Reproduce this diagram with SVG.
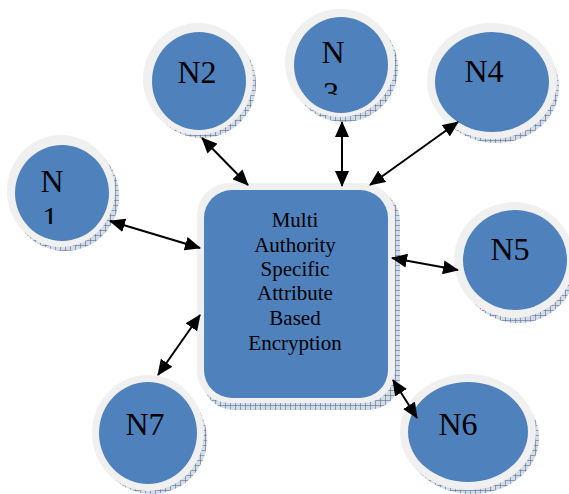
<svg xmlns="http://www.w3.org/2000/svg" width="569" height="494" viewBox="0 0 569 494">
<defs>
<pattern id="hatch" width="5" height="5" patternUnits="userSpaceOnUse">
<rect width="5" height="5" fill="#d3dbe6"/>
<path d="M0 0.5H5M0.5 0V5" stroke="#5a7191" stroke-width="0.6"/>
</pattern>
<marker id="ah" viewBox="0 0 16 14" refX="15" refY="7" markerWidth="16" markerHeight="14" markerUnits="userSpaceOnUse" orient="auto-start-reverse">
<path d="M0 0L16 7L0 14Z" fill="#000"/>
</marker>
<clipPath id="c3"><rect x="290" y="10" width="100" height="85"/></clipPath>
<clipPath id="c1b"><rect x="0" y="140" width="120" height="84"/></clipPath>
</defs>
<style>
.sh{fill:url(#hatch);}
.rim{fill:#f0f0f0;}
.body{fill:#4f81bd;}
.t{font-family:"Liberation Serif","Times New Roman",serif;fill:#000;}
.lbl{font-size:32px;text-anchor:middle;}
.box{font-size:21px;text-anchor:middle;}
.c{stroke:#000;stroke-width:2;fill:none;marker-start:url(#ah);marker-end:url(#ah);}
</style>
<g id="center">
<rect class="sh" x="202" y="189" width="198" height="221" rx="32"/>
<rect class="rim" x="197" y="183" width="198" height="220" rx="32"/>
<rect class="body" x="204" y="190" width="184" height="208" rx="28"/>
<text class="t box" x="295" y="227">Multi</text>
<text class="t box" x="295" y="252">Authority</text>
<text class="t box" x="295" y="276">Specific</text>
<text class="t box" x="295" y="300">Attribute</text>
<text class="t box" x="295" y="325">Based</text>
<text class="t box" x="295" y="350">Encryption</text>
</g>
<g id="N1">
<ellipse class="sh" cx="65" cy="196" rx="54" ry="55"/>
<ellipse class="rim" cx="61" cy="191" rx="54" ry="56"/>
<ellipse class="body" cx="62" cy="193" rx="47" ry="48"/>
<g clip-path="url(#c1b)">
<text class="t lbl" x="52" y="192">N</text>
<text class="t lbl" x="50" y="229">1</text>
</g>
</g>
<g id="N2">
<ellipse class="sh" cx="202" cy="84" rx="54" ry="54"/>
<ellipse class="rim" cx="198" cy="79" rx="55" ry="56"/>
<ellipse class="body" cx="199" cy="81" rx="47" ry="49"/>
<text class="t lbl" x="197" y="83">N2</text>
</g>
<g id="N3">
<ellipse class="sh" cx="344" cy="68" rx="54" ry="54"/>
<ellipse class="rim" cx="340" cy="63" rx="55" ry="54"/>
<ellipse class="body" cx="341" cy="65" rx="47" ry="48"/>
<g clip-path="url(#c3)">
<text class="t lbl" x="333" y="63">N</text>
<text class="t lbl" x="331" y="104">3</text>
</g>
</g>
<g id="N4">
<ellipse class="sh" cx="496" cy="87" rx="63" ry="56"/>
<ellipse class="rim" cx="492" cy="81" rx="65" ry="58"/>
<ellipse class="body" cx="492" cy="82" rx="57" ry="50"/>
<text class="t lbl" x="484" y="82">N4</text>
</g>
<g id="N5">
<ellipse class="sh" cx="518" cy="266" rx="58" ry="57"/>
<ellipse class="rim" cx="514" cy="260" rx="60" ry="58"/>
<ellipse class="body" cx="515" cy="260" rx="52" ry="50"/>
<text class="t lbl" x="510" y="260">N5</text>
</g>
<g id="N6">
<ellipse class="sh" cx="472" cy="438" rx="67" ry="56"/>
<ellipse class="rim" cx="468" cy="432" rx="68" ry="58"/>
<ellipse class="body" cx="468" cy="432" rx="60" ry="50"/>
<text class="t lbl" x="458" y="435">N6</text>
</g>
<g id="N7">
<ellipse class="sh" cx="152" cy="439" rx="55" ry="55"/>
<ellipse class="rim" cx="148" cy="433" rx="56" ry="58"/>
<ellipse class="body" cx="148" cy="433" rx="49" ry="51"/>
<text class="t lbl" x="145" y="435">N7</text>
</g>
<g id="connectors">
<line class="c" x1="110" y1="221" x2="200" y2="248"/>
<line class="c" x1="202" y1="138" x2="248" y2="185"/>
<line class="c" x1="342" y1="122" x2="342" y2="186"/>
<line class="c" x1="458" y1="122" x2="370" y2="185"/>
<line class="c" x1="392" y1="258" x2="458" y2="270"/>
<line class="c" x1="393" y1="380" x2="417" y2="418"/>
<line class="c" x1="200" y1="315" x2="158" y2="375"/>
</g>
</svg>
